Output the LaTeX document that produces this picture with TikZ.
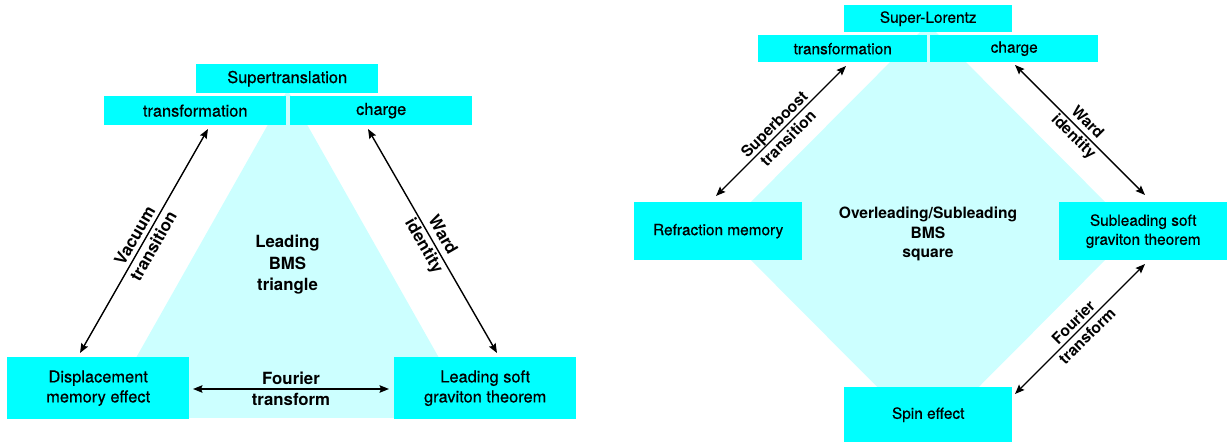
\documentclass[tikz,border=0pt]{standalone}
\usepackage{fontspec}
\setmainfont{TeX Gyre Heros}
\newfontfamily\regfont{TeX Gyre Heros}[FakeBold=0.45]
\usetikzlibrary{arrows.meta}
\definecolor{boxcyan}{HTML}{00FFFF}
\definecolor{lightcyan}{HTML}{CCFFFF}
\begin{document}
\begin{tikzpicture}[x=1pt,y=-1pt,
  box/.style={fill=boxcyan, inner sep=0pt, align=center, anchor=north west},
  lbox/.style={box, font=\regfont\fontsize{16.4}{20}\selectfont},
  rbox/.style={box, font=\regfont\fontsize{15.4}{19}\selectfont},
  llbl/.style={align=center, inner sep=0pt, font=\bfseries\fontsize{16.8}{21.5}\selectfont},
  rlbl/.style={align=center, inner sep=0pt, font=\bfseries\fontsize{15.6}{19.5}\selectfont},
  conn/.style={line width=1.4pt, {Stealth[length=9.5pt,width=7.5pt,inset=1.5pt]}-{Stealth[length=9.5pt,width=7.5pt,inset=1.5pt]}},
  region/.style={fill=lightcyan, draw=none}
]
\useasboundingbox (0,0) rectangle (1232,443);

% ---------- Left: Leading BMS triangle ----------
\fill[region] (287.5,90) -- (473,418) -- (102,418) -- cycle;

\node[lbox, minimum width=182, minimum height=29] (st) at (196,64) {Supertranslation};
\node[lbox, minimum width=182, minimum height=29] (tr1) at (104,96) {transformation};
\node[lbox, minimum width=182, minimum height=29] (ch1) at (290,96) {charge};
\node[lbox, minimum width=182, minimum height=62] (disp) at (7,357) {Displacement\\memory effect};
\node[lbox, minimum width=182, minimum height=62] (lead) at (394,357) {Leading soft\\graviton theorem};

\coordinate (va1) at (208,129);
\coordinate (va2) at (80,353);
\coordinate (wa1) at (368,129);
\coordinate (wa2) at (497,353);
\coordinate (fa1) at (193,389);
\coordinate (fa2) at (389,389);
\draw[conn] (va1) -- (va2);
\draw[conn] (wa1) -- (wa2);
\draw[conn] (fa1) -- (fa2);

\node[llbl, rotate=60.3] (vlab) at (144,241) {Vacuum\\transition};
\node[llbl, rotate=-60.1] (wlab1) at (432.5,241) {Ward\\identity};
\node[llbl] (flab1) at (291,389) {Fourier\\transform};
\node[llbl] (tri) at (287.5,265) {Leading\\BMS\\triangle};

% ---------- Right: Overleading/Subleading BMS square ----------
\fill[region] (928,24) -- (1134,231) -- (928,438) -- (722,231) -- cycle;

\node[rbox, minimum width=168, minimum height=27] (sl) at (844,5) {Super-Lorentz};
\node[rbox, minimum width=169, minimum height=27] (tr2) at (758,35) {transformation};
\node[rbox, minimum width=168, minimum height=27] (ch2) at (930,35) {charge};
\node[rbox, minimum width=168, minimum height=58] (refr) at (634,202) {Refraction memory};
\node[rbox, minimum width=168, minimum height=58] (sub) at (1059,202) {Subleading soft\\graviton theorem};
\node[rbox, minimum width=168, minimum height=55] (spin) at (844,387) {Spin effect};

\coordinate (sb1) at (846,66);
\coordinate (sb2) at (716,196);
\coordinate (wb1) at (1015,65);
\coordinate (wb2) at (1145,195);
\coordinate (fb1) at (1145,264);
\coordinate (fb2) at (1015,394);
\draw[conn] (sb1) -- (sb2);
\draw[conn] (wb1) -- (wb2);
\draw[conn] (fb1) -- (fb2);

\node[rlbl, rotate=45] (slab) at (781,131) {Superboost\\transition};
\node[rlbl, rotate=-45] (wlab2) at (1080,130) {Ward\\identity};
\node[rlbl, rotate=45] (flab2) at (1080,329) {Fourier\\transform};
\node[rlbl] (sq) at (928,234) {Overleading/Subleading\\BMS\\square};
\end{tikzpicture}
\end{document}
